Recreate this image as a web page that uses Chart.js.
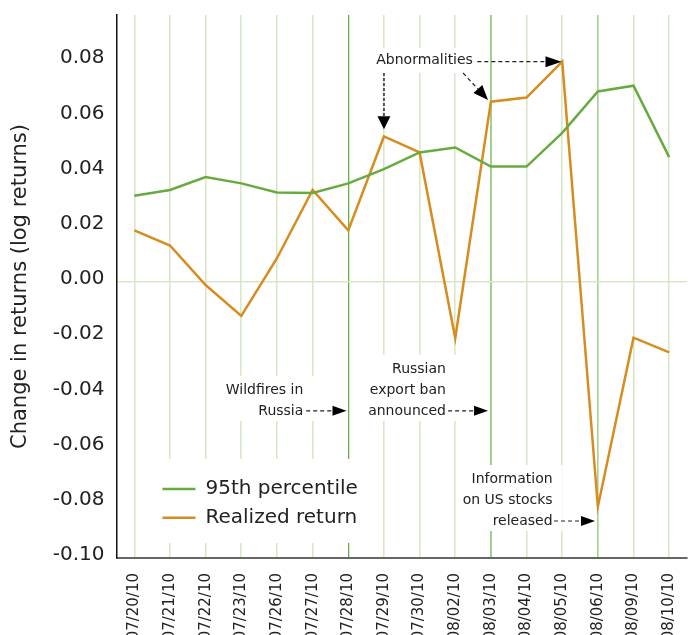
<!DOCTYPE html>
<html>
<head>
<meta charset="utf-8">
<script src="https://cdn.jsdelivr.net/npm/chart.js@4/dist/chart.umd.min.js"></script>
<style>
  html, body { margin: 0; padding: 0; background: #fff; overflow: hidden; }
  #wrap { width: 692px; height: 635px; }
</style>
</head>
<body>
<div id="wrap"><canvas id="chart" width="692" height="635"></canvas></div>
<script>
'use strict';

// --- data ---
const DATES = ['07/20/10', '07/21/10', '07/22/10', '07/23/10', '07/26/10', '07/27/10', '07/28/10', '07/29/10',
               '07/30/10', '08/02/10', '08/03/10', '08/04/10', '08/05/10', '08/06/10', '08/09/10', '08/10/10'];
const PCT95    = [0.0312, 0.0333, 0.0380, 0.0357, 0.0324, 0.0322, 0.0357, 0.0409,
                  0.0469, 0.0487, 0.0418, 0.0418, 0.0540, 0.0690, 0.0711, 0.0452];
const REALIZED = [0.0187, 0.0132, -0.0011, -0.0123, 0.0086, 0.0333, 0.0187, 0.0527,
                  0.0469, -0.0204, 0.0653, 0.0668, 0.0798, -0.0814, -0.0202, -0.0255];
const Y_MIN  = -0.10;
const Y_MAX  = 0.0967;
const Y_STEP = 0.02;
const EVENT_DAYS = ['07/28/10', '08/03/10', '08/06/10'];

// --- styles ---
const FONT      = 'DejaVu Sans';
const GREEN     = '#67ab3f';
const ORANGE    = '#d68c1e';
const GRID      = '#d7e8c6';
const TEXT      = '#222222';
const EVENT_STYLE = {
    '07/28/10': { color: '#66b043', width: 1.3 },
    '08/03/10': { color: '#a3cf8e', width: 2 },
    '08/06/10': { color: '#a6d192', width: 1.6 },
};

// annotation text blocks: x as category index, y as value of the last line
const NOTES = [
    { lines: ['Abnormalities'],                          x: 8.14,  y: 0.0801,  align: 'center', pad: [8, 8, 13, 12] },
    { lines: ['Wildfires in', 'Russia'],                 x: 4.74,  y: -0.0467, align: 'right',  pad: [12, 12, 14, 10] },
    { lines: ['Russian', 'export ban', 'announced'],     x: 8.74,  y: -0.0467, align: 'right',  pad: [12, 12, 14, 10] },
    { lines: ['Information', 'on US stocks', 'released'], x: 11.73, y: -0.0866, align: 'right',  pad: [4, 10, 14, 10] },
];
const ARROWS = [
    { from: [7.0,   0.0757], to: [7.0,   0.0553], head: [13, 13], dash: [3, 2], width: 2,   color: '#555' },
    { from: [9.22,  0.0757], to: [9.92,  0.0659], head: [15, 12], dash: [4, 3], width: 1.2, color: '#222' },
    { from: [9.62,  0.0798], to: [11.98, 0.0798], head: [16, 11], dash: [4, 3], width: 1.2, color: '#222' },
    { from: [4.82, -0.0467], to: [5.95, -0.0467], head: [14, 10], dash: [4, 3], width: 1.2, color: '#222' },
    { from: [8.80, -0.0467], to: [9.92, -0.0467], head: [14, 10], dash: [4, 3], width: 1.2, color: '#222' },
    { from: [11.77,-0.0866], to: [12.92,-0.0866], head: [14, 10], dash: [4, 3], width: 1.2, color: '#222' },
];

const NOTE_FONT = '14px "' + FONT + '"';
const NOTE_LINE = 21;

function noteBox(ctx, xs, ys, n) {
    ctx.font = NOTE_FONT;
    const w = Math.max.apply(null, n.lines.map(l => ctx.measureText(l).width));
    const ax = xs.getPixelForValue(n.x);
    const ay = ys.getPixelForValue(n.y);
    const left  = n.align === 'center' ? ax - w / 2 : ax - w;
    const top   = ay - (n.lines.length - 1) * NOTE_LINE;
    return { ax, ay, w, left, top,
             bx: left - n.pad[0], by: top - n.pad[2],
             bw: w + n.pad[0] + n.pad[1], bh: (ay - top) + n.pad[2] + n.pad[3] };
}

function drawArrow(ctx, x1, y1, x2, y2, a) {
    const ang = Math.atan2(y2 - y1, x2 - x1);
    const len = a.head[0], hw = a.head[1] / 2;
    const bx = x2 - Math.cos(ang) * len, by = y2 - Math.sin(ang) * len;
    ctx.save();
    ctx.strokeStyle = a.color;
    ctx.lineWidth = a.width;
    ctx.setLineDash(a.dash);
    ctx.beginPath();
    ctx.moveTo(x1, y1);
    ctx.lineTo(bx, by);
    ctx.stroke();
    ctx.setLineDash([]);
    ctx.fillStyle = '#000';
    ctx.beginPath();
    ctx.moveTo(x2, y2);
    ctx.lineTo(bx - Math.sin(ang) * hw, by + Math.cos(ang) * hw);
    ctx.lineTo(bx + Math.sin(ang) * hw, by - Math.cos(ang) * hw);
    ctx.closePath();
    ctx.fill();
    ctx.restore();
}

// white panels that cut the grid, then legend, notes and arrows on top
const notesPlugin = {
    id: 'notes',
    beforeDatasetsDraw(chart) {
        const ctx = chart.ctx, xs = chart.scales.x, ys = chart.scales.y, ca = chart.chartArea;
        ctx.save();
        ctx.fillStyle = '#fff';
        NOTES.forEach(n => {
            const b = noteBox(ctx, xs, ys, n);
            ctx.fillRect(b.bx, b.by, b.bw, b.bh);
        });
        // legend panel
        ctx.fillRect(ca.left + 28, ca.bottom - 99, 222, 84);
        ctx.restore();
    },
    afterDatasetsDraw(chart) {
        const ctx = chart.ctx, xs = chart.scales.x, ys = chart.scales.y, ca = chart.chartArea;
        ctx.save();
        ctx.fillStyle = TEXT;
        ctx.textBaseline = 'middle';
        NOTES.forEach(n => {
            const b = noteBox(ctx, xs, ys, n);
            ctx.font = NOTE_FONT;
            ctx.textAlign = n.align;
            n.lines.forEach((l, i) => ctx.fillText(l, b.ax, b.top + i * NOTE_LINE));
        });
        ARROWS.forEach(a => drawArrow(ctx,
            xs.getPixelForValue(a.from[0]), ys.getPixelForValue(a.from[1]),
            xs.getPixelForValue(a.to[0]),   ys.getPixelForValue(a.to[1]), a));

        // legend
        ctx.font = '20px "' + FONT + '"';
        ctx.textAlign = 'left';
        chart.data.datasets.forEach((ds, i) => {
            const y = ca.bottom - 69 + i * 28.7;
            ctx.strokeStyle = ds.borderColor;
            ctx.lineWidth = 2.5;
            ctx.beginPath();
            ctx.moveTo(ca.left + 46, y);
            ctx.lineTo(ca.left + 79, y);
            ctx.stroke();
            ctx.fillStyle = TEXT;
            ctx.fillText(ds.label, ca.left + 89, y);
        });
        ctx.restore();
    }
};

const noPad = (s) => { s.paddingTop = 0; s.paddingBottom = 0; s.paddingLeft = 0; s.paddingRight = 0; };

new Chart(document.getElementById('chart').getContext('2d'), {
    type: 'line',
    data: {
        labels: DATES,
        datasets: [
            { label: '95th percentile', data: PCT95,    borderColor: GREEN,  borderWidth: 2.5, pointRadius: 0, tension: 0, fill: false },
            { label: 'Realized return', data: REALIZED, borderColor: ORANGE, borderWidth: 2.5, pointRadius: 0, tension: 0, fill: false },
        ]
    },
    plugins: [notesPlugin],
    options: {
        responsive: false,
        animation: false,
        events: [],
        layout: { padding: { left: 5, right: 5, top: 15, bottom: 0 } },
        plugins: { legend: { display: false }, tooltip: { enabled: false } },
        scales: {
            x: {
                offset: true,
                grid: {
                    drawTicks: false,
                    color: (c) => EVENT_STYLE[DATES[c.index]] ? EVENT_STYLE[DATES[c.index]].color : GRID,
                    lineWidth: (c) => EVENT_STYLE[DATES[c.index]] ? EVENT_STYLE[DATES[c.index]].width : 1.6,
                },
                border: { color: '#666', width: 2 },
                ticks: {
                    autoSkip: false, minRotation: 90, maxRotation: 90, padding: 15,
                    color: TEXT, font: { family: FONT, size: 15 }
                },
                afterFit: (s) => { s.height = 77; noPad(s); }
            },
            y: {
                min: Y_MIN, max: Y_MAX,
                grid: {
                    drawTicks: false,
                    color: (c) => c.tick && Math.abs(c.tick.value) < 1e-9 ? GRID : 'transparent',
                    lineWidth: 1.6,
                },
                border: { color: '#111', width: 1.5 },
                ticks: {
                    stepSize: Y_STEP, includeBounds: false, padding: 12, labelOffset: -3,
                    color: TEXT, font: { family: FONT, size: 20 },
                    callback: (v) => Number(v).toFixed(2)
                },
                title: {
                    display: true, text: 'Change in returns (log returns)',
                    color: TEXT, font: { family: FONT, size: 21 }, padding: { top: 3, bottom: 4 }
                },
                afterFit: (s) => { s.width = 111.5; noPad(s); }
            }
        }
    }
});
</script>
</body>
</html>
